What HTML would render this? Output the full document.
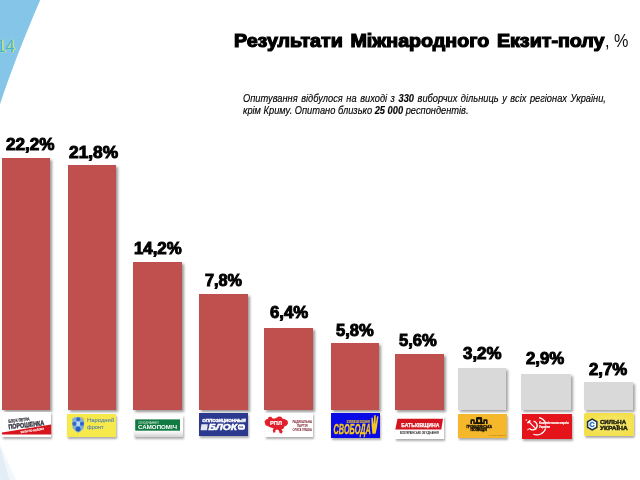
<!DOCTYPE html>
<html lang="uk">
<head>
<meta charset="utf-8">
<title>Результати Міжнародного Екзит-полу</title>
<style>
html,body{margin:0;padding:0;}
body{width:640px;height:480px;position:relative;overflow:hidden;background:#fff;font-family:"Liberation Sans",sans-serif;}
.abs{position:absolute;}
.bar{position:absolute;background:#c0504d;box-shadow:2px 2px 2.5px rgba(0,0,0,.4);}
.bar.g{background:#d9d9d9;box-shadow:2px 2px 2.5px rgba(0,0,0,.36);}
.val{position:absolute;font-weight:bold;font-size:15.2px;line-height:16px;color:#000;white-space:nowrap;transform-origin:0 100%;-webkit-text-stroke:0.9px #000;}
.logo{position:absolute;box-shadow:1px 1.5px 2px rgba(0,0,0,.32);overflow:hidden;}
#title{transform:scaleX(1.0935);position:absolute;left:233.5px;top:30px;font-size:18px;line-height:22px;white-space:nowrap;transform-origin:0 0;color:#000;word-spacing:2px;}
#title b{-webkit-text-stroke:1.15px #000;}
#pct{position:absolute;left:604.5px;top:30px;font-size:18px;line-height:22px;white-space:nowrap;transform-origin:0 0;transform:scaleX(.9);color:#111;}
#sub{position:absolute;left:243.3px;top:91.8px;font-size:11px;line-height:12.6px;font-style:italic;white-space:nowrap;color:#000;-webkit-text-stroke:0.15px #000;}
#sub div{transform-origin:0 0;transform:scaleX(.844);}
#sub .l1{word-spacing:1.15px;}
</style>
</head>
<body>
<svg class="abs" style="left:0;top:0" width="640" height="480" viewBox="0 0 640 480">
  <path d="M0 0 H40.2 Q15.2 58 0 104.2 Z" fill="#84c5e8"/>
  <path d="M0 444.5 L16 480 H0 Z" fill="#f2f7fb"/>
  <path d="M0 447 L9.5 480 H0 Z" fill="#e2edf5"/>
  <text x="-2.6" y="51.6" font-family="Liberation Sans, sans-serif" font-size="16.5" fill="#d2e582" stroke="#d2e582" stroke-width=".5">14</text>
  <text x="-3.6" y="52.1" font-family="Liberation Sans, sans-serif" font-size="16.5" fill="#45b2d4">14</text>
</svg>

<div id="title"><b>Результати Міжнародного Екзит-полу</b></div>
<div id="pct">, %</div>
<div id="sub"><div class="l1">Опитування відбулося на виході з <b>330</b> виборчих дільниць у всіх регіонах України,</div><div class="l2">крім Криму. Опитано близько <b>25 000</b> респондентів.</div></div>

<div class="bar" style="left:2px;top:157.5px;width:48px;height:252.4px"></div>
<div class="bar" style="left:68px;top:165px;width:48px;height:244.9px"></div>
<div class="bar" style="left:133px;top:261.5px;width:48.5px;height:148.4px"></div>
<div class="bar" style="left:199px;top:293.5px;width:48.5px;height:116.4px"></div>
<div class="bar" style="left:264.3px;top:328px;width:48.3px;height:81.9px"></div>
<div class="bar" style="left:330.5px;top:343px;width:48.5px;height:66.9px"></div>
<div class="bar" style="left:395px;top:354.2px;width:48.6px;height:55.7px"></div>
<div class="bar g" style="left:457.5px;top:368px;width:48.6px;height:41.9px"></div>
<div class="bar g" style="left:521.4px;top:373.5px;width:49.2px;height:36.4px"></div>
<div class="bar g" style="left:584px;top:382px;width:49.2px;height:27.9px"></div>

<div class="val" style="left:5.5px;top:136.5px;transform:scale(1.128,1.06)">22,2%</div>
<div class="val" style="left:68.7px;top:144.5px;transform:scale(1.142,1.06)">21,8%</div>
<div class="val" style="left:133.7px;top:241.0px;transform:scale(1.106,1.06)">14,2%</div>
<div class="val" style="left:205.0px;top:273.0px;transform:scale(1.068,1.06)">7,8%</div>
<div class="val" style="left:269.5px;top:304.5px;transform:scale(1.105,1.06)">6,4%</div>
<div class="val" style="left:335.5px;top:322.5px;transform:scale(1.090,1.06)">5,8%</div>
<div class="val" style="left:399.3px;top:333.2px;transform:scale(1.092,1.06)">5,6%</div>
<div class="val" style="left:462.5px;top:346.0px;transform:scale(1.113,1.06)">3,2%</div>
<div class="val" style="left:525.7px;top:351.0px;transform:scale(1.105,1.06)">2,9%</div>
<div class="val" style="left:588.7px;top:361.7px;transform:scale(1.105,1.06)">2,7%</div>

<!-- logo cards -->
<div class="logo" style="left:2px;top:412px;width:49.2px;height:25px;background:#fff"></div>
<div class="logo" style="left:67px;top:414.2px;width:49.4px;height:22.5px;background:#f6e94c"></div>
<div class="logo" style="left:133.5px;top:415px;width:49px;height:22.3px;background:linear-gradient(#fff 0%,#fff 72%,#d2d2d2 100%)"></div>
<div class="logo" style="left:198.5px;top:413px;width:49px;height:22.5px;background:#2b3a8f"></div>
<div class="logo" style="left:264.5px;top:413px;width:48.5px;height:24px;background:#fff"></div>
<div class="logo" style="left:330.5px;top:413px;width:49.5px;height:24.5px;background:#0a0ae6"></div>
<div class="logo" style="left:395px;top:415.5px;width:49.3px;height:23.6px;background:#fff"></div>
<div class="logo" style="left:458.2px;top:414px;width:48.6px;height:23.5px;background:#f5b82c"></div>
<div class="logo" style="left:522px;top:413.5px;width:49.5px;height:25px;background:#e5141b"></div>
<div class="logo" style="left:584px;top:413.3px;width:50px;height:23.2px;background:radial-gradient(ellipse at 55% 50%,#f8ec78 0%,#f3df4a 75%);border-radius:2px"></div>

<svg class="abs" style="left:0;top:0" width="640" height="480" viewBox="0 0 640 480" font-family="Liberation Sans, sans-serif">
  <!-- 1 Poroshenko -->
  <g>
    <path d="M2 432.5 L51.2 424.6 V434.6 H2 Z" fill="#d8141c"/>
    <g transform="rotate(-6.5 9 428)">
      <text x="9" y="422.9" font-size="4.6" font-weight="bold" fill="#40434e" stroke="#40434e" stroke-width=".25" textLength="21.5" lengthAdjust="spacingAndGlyphs">БЛОК ПЕТРА</text>
      <text x="8.6" y="429.2" font-size="6.9" font-weight="bold" fill="#3a3c46" stroke="#3a3c46" stroke-width=".45" textLength="36" lengthAdjust="spacingAndGlyphs">ПОРОШЕНКА</text>
    </g>
    <g transform="rotate(-8.7 21 433)">
      <text x="20.8" y="433.3" font-size="3" font-weight="bold" fill="#fff" stroke="#fff" stroke-width=".12" textLength="23.6" lengthAdjust="spacingAndGlyphs">ЖИТИ ПО-НОВОМУ</text>
    </g>
  </g>
  <!-- 2 Narodny front -->
  <g>
    <path d="M72.3 418.2 Q78.2 415.6 84.1 418.2 V425.6 Q84.1 430.2 78.2 432.8 Q72.3 430.2 72.3 425.6 Z" fill="#7fb0dc"/>
    <path d="M80.5 417 L84.1 418.2 V421 Z" fill="#f0c040"/>
    <circle cx="78.2" cy="423.8" r="2.2" fill="#bcd8f0"/>
    <circle cx="78.2" cy="419.2" r="2" fill="#3467c8"/>
    <circle cx="78.1" cy="429" r="2.5" fill="#2a5cc0"/>
    <circle cx="74.4" cy="423.8" r="2.1" fill="#3467c8"/>
    <circle cx="82" cy="423.8" r="2.1" fill="#3467c8"/>
    <text x="87" y="422.3" font-size="5.5" fill="#5b86a2" stroke="#5b86a2" stroke-width=".1" textLength="27.2" lengthAdjust="spacingAndGlyphs">Народний</text>
    <text x="87" y="428.9" font-size="5.5" fill="#5b86a2" stroke="#5b86a2" stroke-width=".1" textLength="16.6" lengthAdjust="spacingAndGlyphs">фронт</text>
  </g>
  <!-- 3 Samopomich -->
  <g>
    <rect x="135.2" y="419.4" width="44.8" height="11.3" fill="#117a40"/>
    <text x="138" y="423.5" font-size="3.2" fill="#cfe8d8" textLength="20.5" lengthAdjust="spacingAndGlyphs">ОБ'ЄДНАННЯ</text>
    <text x="138" y="429.4" font-size="6" font-weight="bold" fill="#fff" textLength="39" lengthAdjust="spacingAndGlyphs">САМОПОМІЧ</text>
  </g>
  <!-- 4 Oppo blok -->
  <g font-style="italic" font-weight="bold" fill="#fff" stroke="#fff">
    <text x="202.3" y="422.3" font-size="4.3" stroke-width=".35" textLength="43.5" lengthAdjust="spacingAndGlyphs">ОППОЗИЦИОННЫЙ</text>
    <path d="M201.4 424.2 H207.8 L207 430.2 H200.6 Z" fill="#e4e6f0" stroke="none"/>
    <text x="208.5" y="430.2" font-size="8.5" stroke-width=".5" textLength="28.6" lengthAdjust="spacingAndGlyphs">БЛОК</text>
    <rect x="237.8" y="424.3" width="7.2" height="5.4" rx="1.8" fill="#fff" stroke="none"/>
    <text x="239.2" y="428.3" font-size="3.4" fill="#2b3a8f" stroke="none" font-style="normal">ua</text>
  </g>
  <!-- 5 RPL -->
  <g>
    <path d="M264.5 421.6 L266 419.4 L268 418.8 L268.6 417 L271.2 416.7 L272.6 418.4 L275 418.6 L277.4 417.2 L278.6 416.5 L281.2 416.8 L282.4 418.6 L285 419.2 L287.6 420.8 L288 423.4 L286.6 425.6 L284.4 426.6 L283.4 428.8 L281.4 429.4 L282.8 431.6 L281.6 433.6 L279.6 433 L279 430.8 L277.2 429.6 L275.4 430.2 L275.4 432.2 L273.4 432.8 L272.8 430.4 L273.6 428.2 L270.6 427.6 L268 426.2 L265.6 425.2 Z" fill="#e2202c"/>
    <text x="270" y="424.7" font-size="5.8" font-weight="bold" fill="#fff" stroke="#fff" stroke-width=".2" textLength="12" lengthAdjust="spacingAndGlyphs">РПЛ</text>
    <g font-size="2.9" fill="#7a1826" font-weight="bold">
      <text x="292.4" y="423.3" textLength="19.6" lengthAdjust="spacingAndGlyphs">РАДИКАЛЬНА</text>
      <text x="297" y="427.1" textLength="10.6" lengthAdjust="spacingAndGlyphs">ПАРТІЯ</text>
      <text x="292.6" y="430.9" textLength="19.4" lengthAdjust="spacingAndGlyphs">ОЛЕГА ЛЯШКА</text>
    </g>
  </g>
  <!-- 6 Svoboda -->
  <g fill="#f4c81e" stroke="#f4c81e">
    <text x="346.8" y="422.6" font-size="3" font-weight="bold" stroke-width=".12" textLength="23" lengthAdjust="spacingAndGlyphs">ВСЕУКРАЇНСЬКЕ ОБ'ЄДНАННЯ</text>
    <text x="333.6" y="433.8" font-size="14.6" font-weight="bold" font-style="italic" stroke-width=".4" textLength="37.2" lengthAdjust="spacingAndGlyphs">СВОБОДА</text>
    <path stroke="none" d="M372.4 433.8 L371.6 426 L371.4 418 L372.8 417.6 L373.6 424.6 L374.2 415.2 L375.8 415.2 L375.6 424.6 L377 416.2 L378.4 416.6 L377 427 L375.6 433.8 Z"/>
  </g>
  <!-- 7 Batkivshchyna -->
  <g>
    <path d="M397.5 418.8 H443 L441.3 429.4 H395.3 Z" fill="#d3141f"/>
    <text x="401.2" y="427" font-size="6" font-weight="bold" fill="#fff" stroke="#fff" stroke-width=".25" textLength="38.2" lengthAdjust="spacingAndGlyphs">БАТЬКІВЩИНА</text>
    <text x="400" y="434.4" font-size="3.4" font-weight="bold" fill="#222" textLength="38.7" lengthAdjust="spacingAndGlyphs">ВСЕУКРАЇНСЬКЕ ОБ'ЄДНАННЯ</text>
  </g>
  <!-- 8 Hromadianska pozytsiia -->
  <g fill="#1a1408">
    <path d="M470.4 424 V420.4 Q470.4 419.2 471.6 419.2 H473.6 Q474.8 419.2 474.8 420.4 V424 H473.2 V421 H472 V424 Z"/>
    <path d="M476 424 V418.4 Q476 417 477.4 417 H480.8 Q482.2 417 482.2 418.4 V424 H480.1 V419.4 H478.1 V424 Z"/>
    <path d="M483.2 424 V420.4 Q483.2 419.2 484.4 419.2 H486.4 Q487.6 419.2 487.6 420.4 V424 H486 V421 H484.8 V424 Z"/>
    <rect x="474.6" y="422.2" width="9" height="1.8"/>
    <text x="466.4" y="427.6" font-size="2.9" font-weight="bold" stroke="#1a1408" stroke-width=".3" textLength="25.4" lengthAdjust="spacingAndGlyphs">ГРОМАДЯНСЬКА</text>
    <text x="470.4" y="431.1" font-size="2.9" font-weight="bold" stroke="#1a1408" stroke-width=".3" textLength="16.6" lengthAdjust="spacingAndGlyphs">ПОЗИЦІЯ</text>
    <text x="488" y="436.4" font-size="1.9" fill="#9a6a10" textLength="17.8" lengthAdjust="spacingAndGlyphs">АНАТОЛІЙ ГРИЦЕНКО</text>
  </g>
  <!-- 9 KPU -->
  <g fill="none" stroke="#fff">
    <path d="M539 417.6 A9 9 0 0 1 545.6 423" stroke-width="1.2"/>
    <path d="M545.6 428.4 A9 9 0 0 1 533.4 434.2" stroke-width="1.2"/>
    <path d="M533.6 421.2 A4.4 4.4 0 1 1 529.6 428.6" stroke-width="1.3"/>
    <path d="M529 421.8 L536.4 429.4" stroke-width="1.2"/>
    <path d="M527.4 423.2 L530.4 420.4" stroke-width="1.6"/>
    <path d="M527.2 430 L529.8 428.4" stroke-width="1"/>
  </g>
  <text x="524.6" y="420.6" font-size="3" fill="#fff">★</text>
  <text x="539" y="424.4" font-size="3.5" font-weight="bold" fill="#fff" stroke="#fff" stroke-width=".2" textLength="29.7" lengthAdjust="spacingAndGlyphs">Комуністична партія</text>
  <text x="539" y="427.9" font-size="3.5" font-weight="bold" fill="#fff" stroke="#fff" stroke-width=".2" textLength="11" lengthAdjust="spacingAndGlyphs">України</text>
  <!-- 10 Sylna Ukraina -->
  <g>
    <path d="M592.2 418.2 L597.6 421.35 V427.65 L592.2 430.8 L586.8 427.65 V421.35 Z" fill="#1e3250"/>
    <path d="M592.2 419.9 L596.1 422.2 V426.8 L592.2 429.1 L588.3 426.8 V422.2 Z" fill="#fff"/>
    <text x="589.4" y="427.1" font-size="7" font-weight="bold" fill="#2a78c8" stroke="#2a78c8" stroke-width=".5">С</text>
    <text x="600" y="424.1" font-size="4.8" font-weight="bold" fill="#22220f" stroke="#22220f" stroke-width=".35" textLength="26" lengthAdjust="spacingAndGlyphs">СИЛЬНА</text>
    <text x="600" y="429.6" font-size="4.8" font-weight="bold" fill="#22220f" stroke="#22220f" stroke-width=".35" textLength="27.6" lengthAdjust="spacingAndGlyphs">УКРАЇНА</text>
  </g>
</svg>

</body>
</html>
